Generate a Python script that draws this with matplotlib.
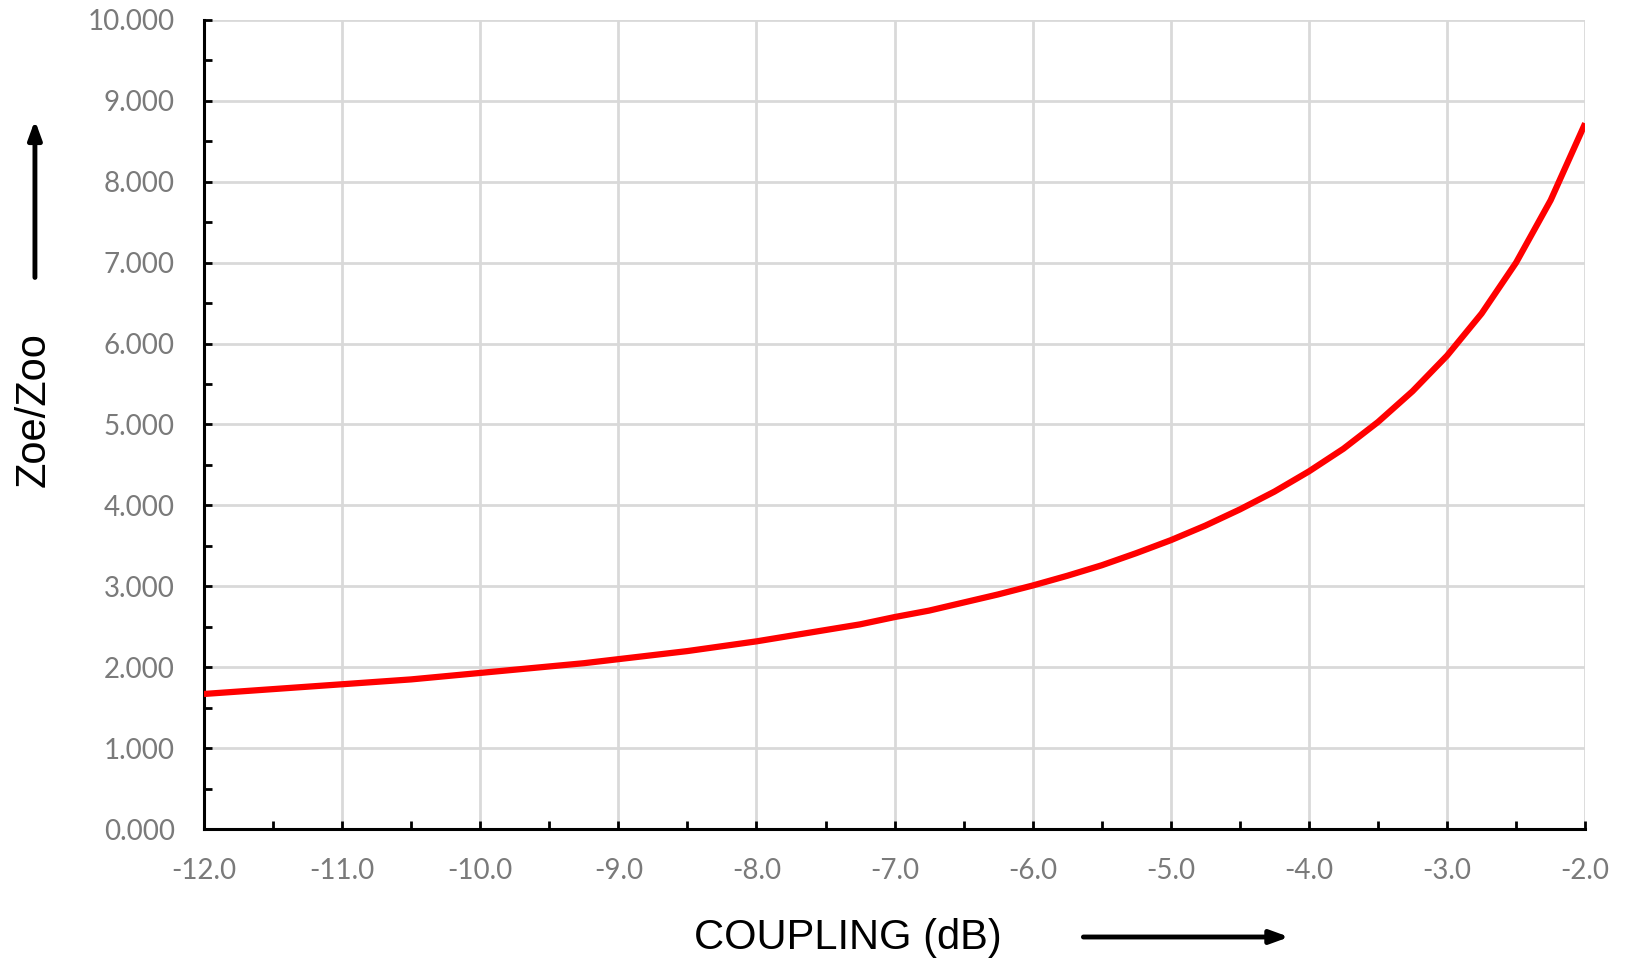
"""
Zoe/Zoo ratio of a coupled line versus coupling in dB.
"""

import matplotlib
matplotlib.use("Agg")
import matplotlib.pyplot as plt
from matplotlib.ticker import MultipleLocator, FuncFormatter

# Values at every 0.25 dB
coupling_db = [-12.0, -11.75, -11.5, -11.25, -11.0, -10.75, -10.5, -10.25, -10.0,
               -9.75, -9.5, -9.25, -9.0, -8.75, -8.5, -8.25, -8.0, -7.75, -7.5,
               -7.25, -7.0, -6.75, -6.5, -6.25, -6.0, -5.75, -5.5, -5.25, -5.0,
               -4.75, -4.5, -4.25, -4.0, -3.75, -3.5, -3.25, -3.0, -2.75, -2.5,
               -2.25, -2.0]
zoe_zoo = [1.67, 1.70, 1.73, 1.76, 1.79, 1.82, 1.85, 1.89, 1.93,
           1.97, 2.01, 2.05, 2.10, 2.15, 2.20, 2.26, 2.32, 2.39, 2.46,
           2.53, 2.62, 2.70, 2.80, 2.90, 3.01, 3.13, 3.26, 3.41, 3.57,
           3.75, 3.95, 4.17, 4.42, 4.70, 5.03, 5.41, 5.85, 6.37, 7.00,
           7.77, 8.72]

x_label = "COUPLING (dB)"
y_label = "Zoe/Zoo"

fig = plt.figure(figsize=(16.25, 9.63), dpi=100)
ax = fig.add_axes([0.1255, 0.139, 0.85, 0.8405])

ax.plot(coupling_db, zoe_zoo, color="#ff0000", linewidth=4.5,
        solid_capstyle="butt", solid_joinstyle="round", zorder=3)

ax.set_xlim(-12, -2)
ax.set_ylim(0, 10)
ax.xaxis.set_major_locator(MultipleLocator(1.0))
ax.xaxis.set_minor_locator(MultipleLocator(0.5))
ax.yaxis.set_major_locator(MultipleLocator(1.0))
ax.yaxis.set_minor_locator(MultipleLocator(0.5))
ax.xaxis.set_major_formatter(FuncFormatter(lambda v, _: f"{v:.1f}"))
ax.yaxis.set_major_formatter(FuncFormatter(lambda v, _: f"{v:.3f}"))

ax.grid(True, which="major", color="#d9d9d9", linewidth=2)
ax.set_axisbelow(True)

for side in ["top", "right"]:
    ax.spines[side].set_visible(False)
for side in ["left", "bottom"]:
    ax.spines[side].set_linewidth(2.2)
    ax.spines[side].set_color("black")

ax.tick_params(which="both", direction="in", length=6, width=2, color="black")
ax.tick_params(which="major", labelsize=20, labelcolor="#7a7a7a", pad=21)
for lbl in ax.get_xticklabels() + ax.get_yticklabels():
    lbl.set_fontfamily("Lato")

# Axis titles with arrows, placed in figure coordinates
fig.text(0.522, 0.026, x_label, ha="center", va="center", fontsize=30,
         family="Liberation Sans")
fig.text(0.021, 0.575, y_label, ha="center", va="center", fontsize=30,
         rotation=90, family="Liberation Sans")

arrow_style = dict(arrowstyle="-|>,head_length=1.1,head_width=0.4", color="black", lw=3.5)
ax.annotate("", xy=(0.795, 0.027), xytext=(0.665, 0.027),
            xycoords="figure fraction", arrowprops=arrow_style)
ax.annotate("", xy=(0.0215, 0.878), xytext=(0.0215, 0.709),
            xycoords="figure fraction", arrowprops=arrow_style)

plt.savefig("out.png", dpi=100)
plt.close()
